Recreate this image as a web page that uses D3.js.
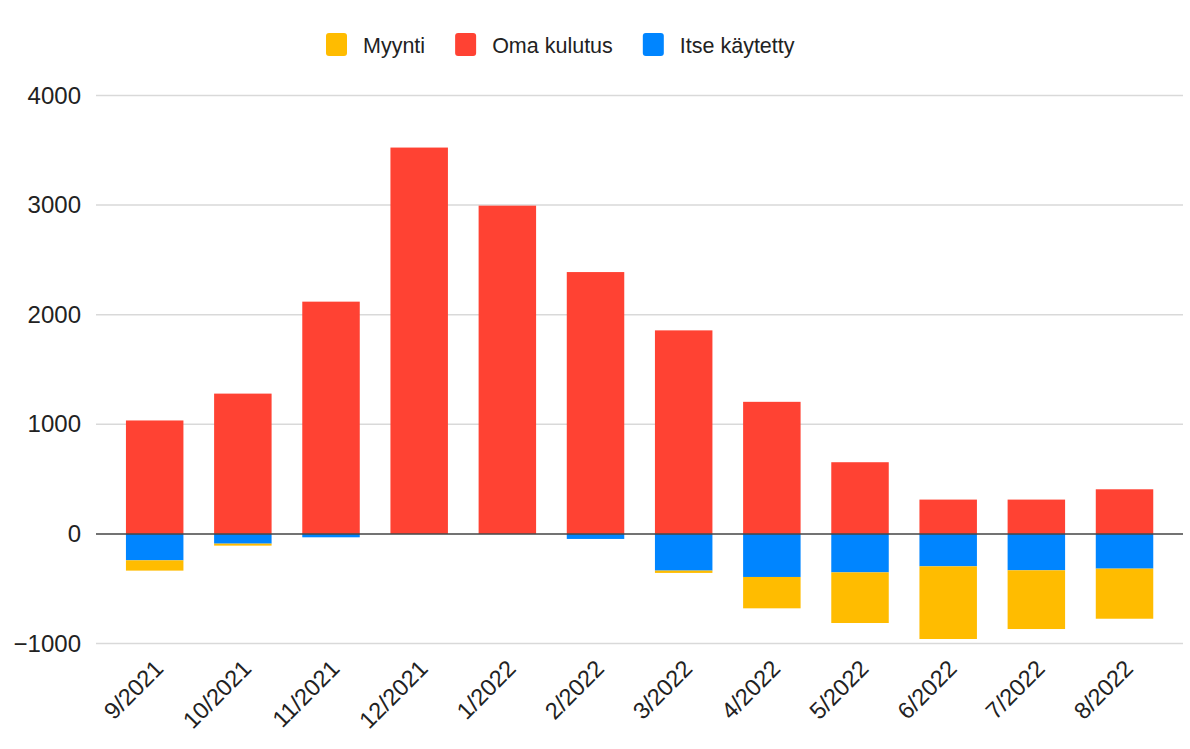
<!DOCTYPE html>
<meta charset="utf-8">
<style>
    body{ margin:0; background:#fff; }
    text{ font-family:"Liberation Sans", Arial, sans-serif; fill:#222; }
</style>
<svg id="chart" width="1190" height="749"></svg>
<script src="https://d3js.org/d3.v7.min.js"></script>
<script>

// kuukaudet
var months = ["9/2021","10/2021","11/2021","12/2021","1/2022","2/2022","3/2022","4/2022","5/2022","6/2022","7/2022","8/2022"];
// kWh
var omaKulutus   = [1035, 1280, 2119, 3525, 2995, 2389, 1857, 1205, 654, 313, 313, 407];
var itseKaytetty = [-241, -89, -31, 0, 0, -46, -335, -393, -351, -296, -332, -317];
var myynti       = [-94, -18, 0, 0, 0, 0, -21, -286, -462, -663, -536, -457];
var yTicks = [-1000, 0, 1000, 2000, 3000, 4000];

var series = [
    {name: "Myynti", values: myynti, color: "#ffbc00"},
    {name: "Oma kulutus", values: omaKulutus, color: "#ff4233"},
    {name: "Itse käytetty", values: itseKaytetty, color: "#0085ff"}
];

var svg = d3.select("#chart");

var x = d3.scaleBand()
    .domain(months)
    .range([110.6, 1168.6])
    .paddingInner(0.348)
    .paddingOuter(0.174);

var y = d3.scaleLinear()
    .domain([-1000, 4000])
    .range([643.5, 95.5]);

var gridX1 = 96, gridX2 = 1183;

// gridlines
svg.append("g")
    .selectAll("line")
    .data(yTicks.filter(function(d){ return d !== 0; }))
    .enter().append("line")
    .attr("x1", gridX1).attr("x2", gridX2)
    .attr("y1", function(d){ return y(d); })
    .attr("y2", function(d){ return y(d); })
    .attr("stroke", "#d9d9d9")
    .attr("stroke-width", 1.5);

// y axis labels
var yAxis = svg.append("g")
    .attr("transform", "translate(" + gridX1 + ",0)")
    .call(d3.axisLeft(y).tickValues(yTicks).tickSize(0).tickPadding(15)
        .tickFormat(function(d){ return d < 0 ? "\u2212" + Math.abs(d) : d; }));
yAxis.select(".domain").remove();
yAxis.selectAll("text")
    .attr("font-size", "24px")
    .attr("font-family", "Liberation Sans, Arial, sans-serif")
    .attr("fill", "#222");

// stacked bars: positive and negative separately
months.forEach(function(m, i){
    var posBase = 0, negBase = 0;
    // Itse käytetty nearest zero, then Myynti
    [series[1], series[2], series[0]].forEach(function(s){
        var v = s.values[i];
        if (v === 0) return;
        var y0, y1;
        if (v > 0) { y0 = posBase; y1 = posBase + v; posBase = y1; }
        else { y0 = negBase; y1 = negBase + v; negBase = y1; }
        svg.append("rect")
            .attr("x", x(m))
            .attr("width", x.bandwidth())
            .attr("y", y(Math.max(y0, y1)))
            .attr("height", Math.abs(y(y0) - y(y1)))
            .attr("fill", s.color);
    });
});

// zero line
svg.append("line")
    .attr("x1", gridX1).attr("x2", gridX2)
    .attr("y1", y(0)).attr("y2", y(0))
    .attr("stroke", "#444")
    .attr("stroke-width", 1.5);

// x labels
svg.append("g")
    .selectAll("text")
    .data(months)
    .enter().append("text")
    .attr("transform", function(d){
        return "translate(" + (x(d) + x.bandwidth() / 2 + 10) + ",670) rotate(-45)";
    })
    .attr("text-anchor", "end")
    .attr("font-size", "23.5px")
    .text(function(d){ return d; });

// legend
var lx = 326;
series.forEach(function(s){
    var g = svg.append("g").attr("transform", "translate(" + lx + ",0)");
    g.append("rect")
        .attr("x", 0).attr("y", 33)
        .attr("width", 21).attr("height", 23)
        .attr("rx", 3)
        .attr("fill", s.color);
    var t = g.append("text")
        .attr("x", 37).attr("y", 53)
        .attr("font-size", "21.5px")
        .text(s.name);
    lx += 37 + t.node().getComputedTextLength() + 30;
});

</script>
